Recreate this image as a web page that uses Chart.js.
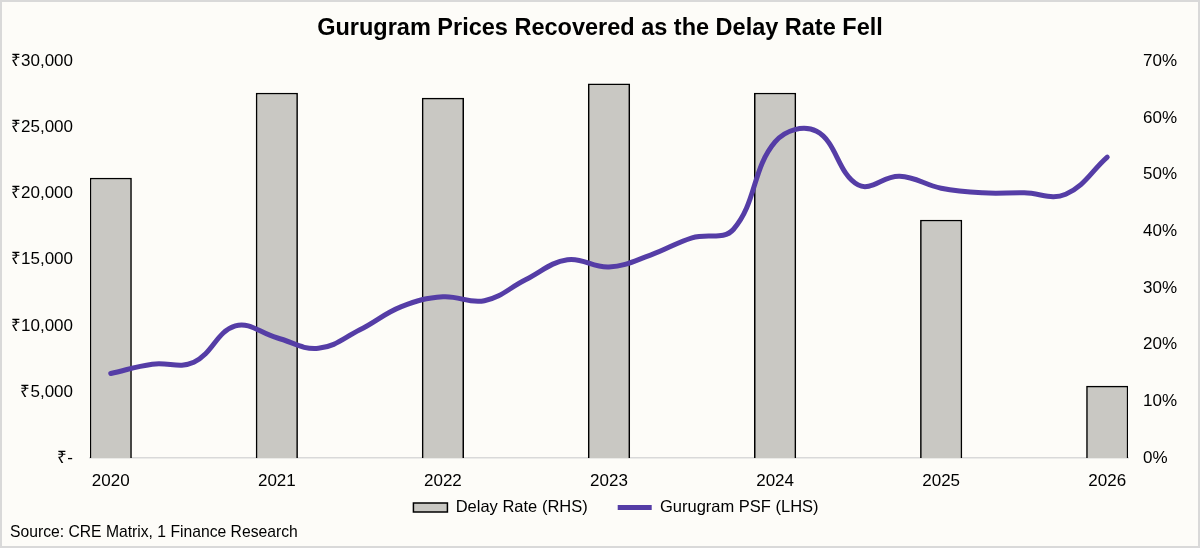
<!DOCTYPE html>
<html>
<head>
<meta charset="utf-8">
<title>Gurugram Prices Recovered as the Delay Rate Fell</title>
<script src="https://cdn.jsdelivr.net/npm/chart.js@4/dist/chart.umd.min.js"></script>
<style>
  html, body { margin: 0; padding: 0; background: #fdfcf8; }
  #wrap {
    width: 1200px; height: 548px; box-sizing: border-box;
    border: 2px solid #d9d9d9; background: #fdfcf8;
  }
  #chart { display: block; }
</style>
</head>
<body>
<div id="wrap"><canvas id="chart" width="1196" height="544"></canvas></div>
<script>
//
// DATA
//

// quarterly x positions, a year label every fourth one
const quarters = [
  "2020", "2020 Q2", "2020 Q3", "2020 Q4",
  "2021", "2021 Q2", "2021 Q3", "2021 Q4",
  "2022", "2022 Q2", "2022 Q3", "2022 Q4",
  "2023", "2023 Q2", "2023 Q3", "2023 Q4",
  "2024", "2024 Q2", "2024 Q3", "2024 Q4",
  "2025", "2025 Q2", "2025 Q3", "2025 Q4",
  "2026"
];
const years = ["2020", "2021", "2022", "2023", "2024", "2025", "2026"];

// Delay Rate (RHS), % by year
const delayRate = [49.4, 64.4, 63.5, 66.0, 64.4, 42.0, 12.7];

// Gurugram PSF (LHS), rupees per sq ft by quarter
const gurugramPsf = [
  6400, 7100, 7250, 10000,
  9100, 8300, 9700, 11450,
  12200, 11900, 13500, 15000,
  14450, 15350, 16650, 17300,
  23900, 24700, 20650, 21300,
  20400, 20050, 20050, 19950,
  22750
];

const leftTicks = [0, 5000, 10000, 15000, 20000, 25000, 30000];
const rightTicks = [0, 10, 20, 30, 40, 50, 60, 70];

//
// HELPERS
//

const FONT = "'Liberation Sans', Arial, sans-serif";
const PURPLE = "#553da6";
const BAR_GREY = "#c9c8c3";

function rupees(v) {
  if (v === 0) return "₹-";
  return "₹" + v.toString().replace(/\B(?=(\d{3})+(?!\d))/g, ",");
}

// spread the yearly bars onto the quarterly axis
const delayByQuarter = quarters.map((q) => {
  const i = years.indexOf(q);
  return i === -1 ? null : delayRate[i];
});

// The legend needs a wide gap between items (labels.padding), which also
// pads it vertically. The x axis is fitted short so the legend's empty top
// overlaps the year labels, then the axis box is grown back so its labels
// are not clipped. The legend is also moved a little right of centre.
const X_AXIS_HEIGHT = 34;
const fixBoxes = {
  id: "fixBoxes",
  afterLayout(chart) {
    const x = chart.scales.x;
    x.bottom = x.top + X_AXIS_HEIGHT;
    const lg = chart.legend;
    lg.left += 16;
    lg.right += 16;
    lg.top += 2;
    lg.bottom += 2;
  },
};

//
// CHART
//

new Chart(document.getElementById("chart"), {
  plugins: [fixBoxes],
  data: {
    labels: quarters,
    datasets: [
      {
        type: "line",
        label: "Gurugram PSF (LHS)",
        data: gurugramPsf,
        yAxisID: "yLeft",
        borderColor: PURPLE,
        borderWidth: 5,
        borderCapStyle: "round",
        tension: 0.4,
        pointRadius: 0,
        pointHoverRadius: 0,
        order: 0,
      },
      {
        type: "bar",
        label: "Delay Rate (RHS)",
        data: delayByQuarter,
        yAxisID: "yRight",
        backgroundColor: BAR_GREY,
        borderColor: "#000",
        borderWidth: 1.5,
        barPercentage: 1.0,
        categoryPercentage: 1.0,
        order: 1,
      },
    ],
  },
  options: {
    responsive: false,
    animation: false,
    layout: { padding: { left: 8, right: 8, top: 0, bottom: 0 } },
    scales: {
      x: {
        offset: true,
        grid: { display: false, drawTicks: false },
        border: { color: "#d9d9d9", width: 1.5 },
        ticks: {
          autoSkip: false,
          maxRotation: 0,
          padding: 13,
          color: "#000",
          font: { family: FONT, size: 17 },
          callback: (v, i) => (years.includes(quarters[i]) ? quarters[i] : ""),
        },
        afterFit: (s) => { s.height = 9; },
      },
      yLeft: {
        position: "left",
        min: 0,
        max: 30000,
        grid: { display: false, drawTicks: false },
        border: { display: false },
        afterBuildTicks: (s) => { s.ticks = leftTicks.map((v) => ({ value: v })); },
        ticks: {
          padding: 17,
          color: "#000",
          font: { family: FONT, size: 17 },
          callback: (v) => rupees(v),
        },
        afterFit: (s) => { s.width = 80; },
      },
      yRight: {
        position: "right",
        min: 0,
        max: 70,
        grid: { display: false, drawTicks: false },
        border: { display: false },
        afterBuildTicks: (s) => { s.ticks = rightTicks.map((v) => ({ value: v })); },
        ticks: {
          padding: 15,
          color: "#000",
          font: { family: FONT, size: 17 },
          callback: (v) => v + "%",
        },
        afterFit: (s) => { s.width = 62; },
      },
    },
    plugins: {
      tooltip: { enabled: false },
      title: {
        display: true,
        text: "Gurugram Prices Recovered as the Delay Rate Fell",
        color: "#000",
        font: { family: FONT, size: 23.5, weight: "bold" },
        padding: { top: 12, bottom: 19 },
      },
      subtitle: {
        display: true,
        position: "bottom",
        align: "start",
        text: "Source: CRE Matrix, 1 Finance Research",
        color: "#000",
        font: { family: FONT, size: 15.7 },
        padding: { top: 0, bottom: 3.5 },
      },
      legend: {
        position: "bottom",
        reverse: true,
        labels: {
          color: "#000",
          font: { family: FONT, size: 16.5 },
          usePointStyle: true,
          pointStyleWidth: 34,
          boxHeight: 9,
          padding: 30,
          generateLabels: (chart) => {
            const items = Chart.defaults.plugins.legend.labels.generateLabels(chart);
            items.forEach((it) => {
              if (it.text.startsWith("Delay")) {
                it.pointStyle = "rect";
                it.fillStyle = BAR_GREY;
                it.strokeStyle = "#000";
                it.lineWidth = 1.5;
              } else {
                it.pointStyle = "line";
                it.strokeStyle = PURPLE;
                it.lineWidth = 5;
              }
            });
            return items;
          },
        },
      },
    },
  },
});
</script>
</body>
</html>
